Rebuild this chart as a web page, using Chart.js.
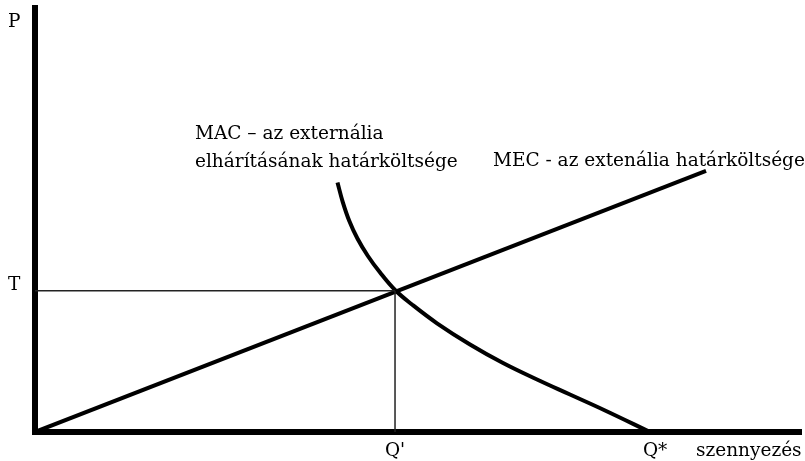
<!DOCTYPE html>
<html>
<head>
<meta charset="utf-8">
<script src="https://cdn.jsdelivr.net/npm/chart.js@4/dist/chart.umd.min.js"></script>
<style>
  html, body { margin: 0; padding: 0; background: #fff; }
  canvas { display: block; }
</style>
</head>
<body>
<canvas id="chart" width="805" height="461"></canvas>
<script>
// értékek (tengelyek 0..100 egységben)
const tErtek = 33.3;
const qVesszo = 47.0;
const qCsillag = 80.3;

const mecX = [0, 87.6];
const mecY = [0, 61.6];

const macX = [39.49, 40.17, 41.02, 42.11, 43.46, 45.0, 47.0, 49.22, 52.48, 56.79, 61.1, 65.54, 69.84, 74.28, 80.29];
const macY = [58.84, 54.29, 49.83, 45.57, 41.51, 37.71, 33.49, 30.07, 25.64, 20.64, 16.27, 12.38, 8.84, 5.19, 0];

const macCimke = ['MAC – az externália', 'elhárításának határköltsége'];
const mecCimke = 'MEC - az extenália határköltsége';

const betu = '18.5px "DejaVu Serif"';

const pontok = (xs, ys) => xs.map((x, i) => ({ x, y: ys[i] }));

const szovegek = {
    id: 'szovegek',
    afterDraw(chart) {
        const ctx = chart.ctx;
        const sx = chart.scales.x;
        const sy = chart.scales.y;
        ctx.save();
        ctx.fillStyle = '#000';
        ctx.font = betu;
        ctx.textBaseline = 'alphabetic';
        ctx.textAlign = 'left';

        ctx.fillText('P', 8, 27);
        ctx.fillText('T', 8, sy.getPixelForValue(tErtek) - 1);

        ctx.textAlign = 'center';
        ctx.fillText("Q'", sx.getPixelForValue(qVesszo), 456);
        ctx.fillText('Q*', sx.getPixelForValue(qCsillag) + 5, 456);
        ctx.textAlign = 'left';
        ctx.fillText('szennyezés', 696, 456);

        ctx.fillText(macCimke[0], 195, 139);
        ctx.fillText(macCimke[1], 195, 167);
        ctx.fillText(mecCimke, 493, 166);
        ctx.restore();
    }
};

new Chart(document.getElementById('chart'), {
    type: 'scatter',
    data: {
        datasets: [
            {
                label: 'T',
                data: pontok([0, qVesszo], [tErtek, tErtek]),
                showLine: true,
                borderColor: '#222',
                borderWidth: 1.5,
                pointRadius: 0
            },
            {
                label: "Q'",
                data: pontok([qVesszo, qVesszo], [0, tErtek]),
                showLine: true,
                borderColor: '#222',
                borderWidth: 1.5,
                pointRadius: 0
            },
            {
                label: 'MEC',
                data: pontok(mecX, mecY),
                showLine: true,
                borderColor: '#000',
                borderWidth: 4,
                pointRadius: 0
            },
            {
                label: 'MAC',
                data: pontok(macX, macY),
                showLine: true,
                tension: 0.4,
                borderColor: '#000',
                borderWidth: 4,
                pointRadius: 0
            }
        ]
    },
    options: {
        responsive: false,
        devicePixelRatio: 1,
        animation: false,
        layout: { padding: { top: 8, right: 4, left: 0, bottom: 0 } },
        plugins: { legend: { display: false }, tooltip: { enabled: false } },
        scales: {
            x: {
                type: 'linear', min: 0, max: 100,
                grid: { display: false, drawTicks: false },
                ticks: { display: false },
                border: { display: true, color: '#000', width: 6 },
                afterFit: (s) => { s.height = 29; }
            },
            y: {
                type: 'linear', min: 0, max: 100,
                grid: { display: false, drawTicks: false },
                ticks: { display: false },
                border: { display: true, color: '#000', width: 6 },
                afterFit: (s) => { s.width = 35; }
            }
        }
    },
    plugins: [szovegek]
});
</script>
</body>
</html>
